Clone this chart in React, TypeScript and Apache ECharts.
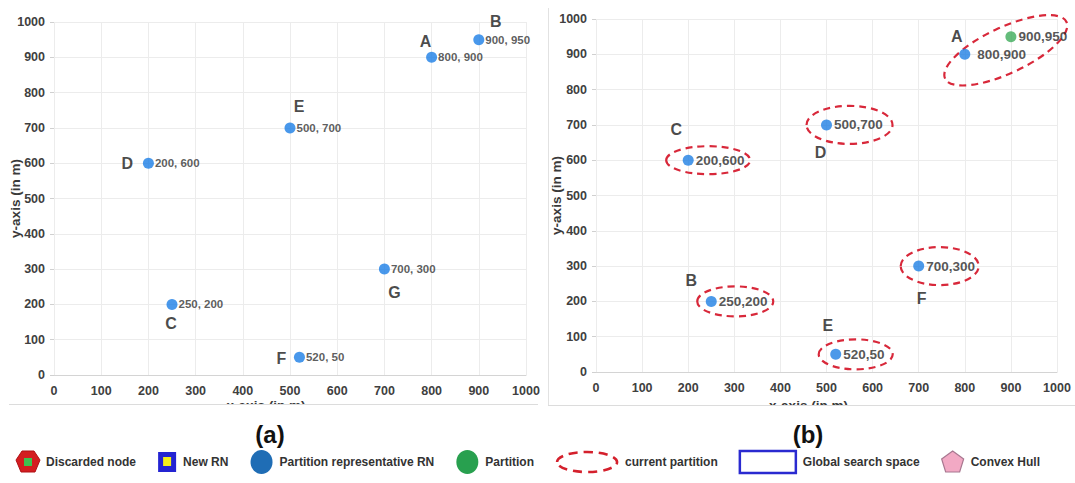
import React, { useEffect, useRef } from "react";
import * as echarts from "echarts";

const FONT = "'Liberation Sans', Arial, Helvetica, sans-serif";

// ---------- data: chart (a) ----------
const nodeNamesA = ["A", "B", "C", "D", "E", "F", "G"];
const nodeXA = [800, 900, 250, 200, 500, 520, 700];
const nodeYA = [900, 950, 200, 600, 700, 50, 300];

// ---------- data: chart (b) ----------
const nodeNamesB = ["A", "", "B", "C", "D", "E", "F"];
const nodeXB = [800, 900, 250, 200, 500, 520, 700];
const nodeYB = [900, 950, 200, 600, 700, 50, 300];
const nodeRoleB = ["rep", "partition", "rep", "rep", "rep", "rep", "rep"];
// current partitions (indices of nodes that each dashed ellipse encloses)
const partitionsB = [[0, 1], [2], [3], [4], [5], [6]];

// ---------- axes ----------
const axisMin = 0;
const axisMax = 1000;
const axisStep = 100;
const xAxisTitle = "x-axis (in m)";
const yAxisTitle = "y-axis (in m)";
const panelTitles = ["(a)", "(b)"];

// ---------- legend ----------
const legendLabels = [
  "Discarded node",
  "New RN",
  "Partition representative RN",
  "Partition",
  "current partition",
  "Global search space",
  "Convex Hull",
];

// ---------- layout (pixel offsets, styles) ----------
const letterOffsetA = [[-6, -16], [17, -18], [-1, 19], [-21, 0], [9, -21], [-18, 1], [10, 23]];
const letterOffsetB = [[-8, -18], [0, 0], [-20, -21], [-12, -31], [-6, 28], [-8, -29], [3, 32]];
const labelDistB = [7, 2, 2, 2, 2, 2, 2];
const ellipseShapeB = [
  { dx: 41, dy: -4, rx: 67, ry: 23, rot: 25 },
  { dx: 24, dy: 0, rx: 38, ry: 15, rot: 0 },
  { dx: 20, dy: 0, rx: 42, ry: 14, rot: 0 },
  { dx: 23, dy: 0, rx: 43, ry: 19, rot: 0 },
  { dx: 20, dy: 0, rx: 37, ry: 15, rot: 0 },
  { dx: 21, dy: 0, rx: 39, ry: 19, rot: 0 },
];

const GRID_A = { left: 54, top: 22, width: 472, height: 353 };
const GRID_B = { left: 596, top: 19, width: 461, height: 353 };

const BLUE_A = "#1c7ee6";
const BLUE_B = "#1f80e4";
const GREEN_B = "#3dab5a";
const RED = "#d8283a";

const tickFmt = (v: number) => String(v);

function makeXAxis(gridIndex: number) {
  return {
    type: "value",
    gridIndex,
    min: axisMin,
    max: axisMax,
    interval: axisStep,
    axisLine: { show: true, lineStyle: { color: "#d4d4d4", width: 1 } },
    axisTick: { show: false },
    axisLabel: { formatter: tickFmt, fontSize: 12.5, fontWeight: "bold", color: "#404040", margin: 9, fontFamily: FONT },
    splitLine: { show: true, lineStyle: { color: "#ececec", width: 1 } },
  };
}
function makeYAxis(gridIndex: number) {
  return {
    type: "value",
    gridIndex,
    min: axisMin,
    max: axisMax,
    interval: axisStep,
    axisLine: { show: false },
    axisTick: { show: true, length: 4, lineStyle: { color: "#d0d0d0" } },
    axisLabel: { formatter: tickFmt, fontSize: 12.5, fontWeight: "bold", color: "#404040", margin: 9, fontFamily: FONT },
    splitLine: { show: true, lineStyle: { color: "#ececec", width: 1 } },
  };
}

export default function App() {
  const ref = useRef<HTMLDivElement>(null);

  useEffect(() => {
    if (!ref.current) return;
    const chart = echarts.init(ref.current, undefined, { renderer: "svg" });

    const seriesA = [
      {
        type: "scatter",
        xAxisIndex: 0,
        yAxisIndex: 0,
        symbolSize: 11,
        itemStyle: { color: BLUE_A },
        data: nodeXA.map((x, i) => [x, nodeYA[i]]),
        label: {
          show: true,
          position: "right",
          distance: 1,
          formatter: (p: any) => `${p.value[0]}, ${p.value[1]}`,
          fontSize: 11.5,
          fontWeight: "bold",
          color: "#333",
          fontFamily: FONT,
        },
        z: 5,
      },
      {
        type: "scatter",
        xAxisIndex: 0,
        yAxisIndex: 0,
        symbolSize: 1,
        silent: true,
        itemStyle: { color: "rgba(0,0,0,0)" },
        data: nodeXA.map((x, i) => ({ value: [x, nodeYA[i]], label: { offset: letterOffsetA[i] } })),
        label: {
          show: true,
          position: "inside",
          formatter: (p: any) => nodeNamesA[p.dataIndex],
          fontSize: 16,
          fontWeight: "bold",
          color: "#1a1a1a",
          fontFamily: FONT,
        },
        z: 6,
      },
    ];

    const seriesB = [
      {
        type: "scatter",
        xAxisIndex: 1,
        yAxisIndex: 1,
        symbolSize: 11,
        data: nodeXB.map((x, i) => ({
          value: [x, nodeYB[i]],
          itemStyle: { color: nodeRoleB[i] === "partition" ? GREEN_B : BLUE_B },
          label: { distance: labelDistB[i] },
        })),
        label: {
          show: true,
          position: "right",
          formatter: (p: any) => `${p.value[0]},${p.value[1]}`,
          fontSize: 13.5,
          fontWeight: "bold",
          color: "#2a2a2a",
          fontFamily: FONT,
        },
        z: 5,
      },
      {
        type: "scatter",
        xAxisIndex: 1,
        yAxisIndex: 1,
        symbolSize: 1,
        silent: true,
        itemStyle: { color: "rgba(0,0,0,0)" },
        data: nodeXB.map((x, i) => ({ value: [x, nodeYB[i]], label: { offset: letterOffsetB[i] } })),
        label: {
          show: true,
          position: "inside",
          formatter: (p: any) => nodeNamesB[p.dataIndex],
          fontSize: 16,
          fontWeight: "bold",
          color: "#1a1a1a",
          fontFamily: FONT,
        },
        z: 6,
      },
    ];

    chart.setOption({
      animation: false,
      backgroundColor: "#ffffff",
      textStyle: { fontFamily: FONT },
      grid: [GRID_A, GRID_B],
      xAxis: [makeXAxis(0), makeXAxis(1)],
      yAxis: [makeYAxis(0), makeYAxis(1)],
      series: [...seriesA, ...seriesB],
    });

    // ---- graphic overlays ----
    const px = (g: number, x: number, y: number) =>
      chart.convertToPixel({ gridIndex: g } as any, [x, y]) as number[];

    const ellipses = partitionsB.map((members, k) => {
      const i = members[0];
      const [cx, cy] = px(1, nodeXB[i], nodeYB[i]);
      const s = ellipseShapeB[k];
      return {
        type: "ellipse",
        x: cx + s.dx,
        y: cy + s.dy,
        rotation: (s.rot * Math.PI) / 180,
        shape: { cx: 0, cy: 0, rx: s.rx, ry: s.ry },
        style: { fill: "none", stroke: RED, lineWidth: 2.2, lineDash: [7, 5] },
        z: 3,
        silent: true,
      };
    });

    const midA = GRID_A.left + GRID_A.width / 2;
    const midB = GRID_B.left + GRID_B.width / 2;
    const axisTitleStyle = { fontSize: 13.5, fontWeight: "bold", fill: "#3a3a3a", fontFamily: FONT };

    const axisTitles = [
      { type: "text", x: midA - 24, y: 405, style: { ...axisTitleStyle, text: xAxisTitle, align: "center", verticalAlign: "middle" }, z: 2 },
      { type: "text", x: midB - 18, y: 405, style: { ...axisTitleStyle, text: xAxisTitle, align: "center", verticalAlign: "middle" }, z: 2 },
      { type: "text", x: 15, y: GRID_A.top + GRID_A.height / 2, rotation: Math.PI / 2, style: { ...axisTitleStyle, text: yAxisTitle, align: "center", verticalAlign: "middle" }, z: 2 },
      { type: "text", x: 556, y: GRID_B.top + GRID_B.height / 2, rotation: Math.PI / 2, style: { ...axisTitleStyle, text: yAxisTitle, align: "center", verticalAlign: "middle" }, z: 2 },
    ];

    // panel frames (faint borders of the two pictures) and clipping strips
    const frames = [
      { type: "rect", shape: { x: 0, y: 405, width: 545, height: 12 }, style: { fill: "#fff" }, z: 8 },
      { type: "rect", shape: { x: 545, y: 406, width: 530, height: 12 }, style: { fill: "#fff" }, z: 8 },
      { type: "line", shape: { x1: 9, y1: 404.5, x2: 538, y2: 404.5 }, style: { stroke: "#dcdcdc", lineWidth: 1 }, z: 9 },
      { type: "line", shape: { x1: 548.5, y1: 8, x2: 548.5, y2: 405.5 }, style: { stroke: "#e2e2e2", lineWidth: 1 }, z: 9 },
      { type: "line", shape: { x1: 548, y1: 405.5, x2: 1075, y2: 405.5 }, style: { stroke: "#dcdcdc", lineWidth: 1 }, z: 9 },
    ];

    const titles = panelTitles.map((t, i) => ({
      type: "text",
      x: i === 0 ? 270 : 808,
      y: 434,
      style: { text: t, fontSize: 24, fontWeight: "bold", fill: "#111", fontFamily: FONT, align: "center", verticalAlign: "middle" },
      z: 9,
    }));

    // legend row
    const canvas = document.createElement("canvas");
    const ctx = canvas.getContext("2d")!;
    const LEG_FONT_SIZE = 12;
    ctx.font = `bold ${LEG_FONT_SIZE}px ${FONT}`;
    const iconW = [24, 20, 24, 24, 64, 58, 24];
    const iconGap = 6;
    const textW = legendLabels.map((t) => ctx.measureText(t).width);
    const startX = 16;
    const endX = 1040;
    const used = iconW.reduce((a, b) => a + b, 0) + textW.reduce((a, b) => a + b, 0) + iconGap * legendLabels.length;
    const itemGap = (endX - startX - used) / (legendLabels.length - 1);
    const LY = 462;
    const legend: any[] = [];
    let cur = startX;
    legendLabels.forEach((label, k) => {
      const w = iconW[k];
      const cx = cur + w / 2;
      if (k === 0) {
        legend.push({
          type: "polygon",
          shape: { points: [[cx - 12, LY - 2], [cx - 6, LY - 11], [cx + 6, LY - 11], [cx + 12, LY - 2], [cx + 7, LY + 10], [cx - 7, LY + 10]] },
          style: { fill: "#d41d20", stroke: "#b01015", lineWidth: 1 },
        });
        legend.push({ type: "rect", shape: { x: cx - 4, y: LY - 4, width: 8, height: 8 }, style: { fill: "#3fc24f" } });
      } else if (k === 1) {
        legend.push({ type: "rect", shape: { x: cx - 9, y: LY - 10, width: 18, height: 20 }, style: { fill: "#2424d2" } });
        legend.push({ type: "rect", shape: { x: cx - 4, y: LY - 5, width: 8, height: 9 }, style: { fill: "#f4ef1a" } });
      } else if (k === 2) {
        legend.push({ type: "ellipse", shape: { cx, cy: LY, rx: 11, ry: 12 }, style: { fill: "#1f6db5" } });
      } else if (k === 3) {
        legend.push({ type: "ellipse", shape: { cx, cy: LY, rx: 11, ry: 12 }, style: { fill: "#28a04f" } });
      } else if (k === 4) {
        legend.push({ type: "ellipse", shape: { cx, cy: LY, rx: 30, ry: 10 }, style: { fill: "none", stroke: "#d4202c", lineWidth: 2.6, lineDash: [9, 6] } });
      } else if (k === 5) {
        legend.push({ type: "rect", shape: { x: cur + 1, y: LY - 11, width: w - 2, height: 22 }, style: { fill: "#fff", stroke: "#2a2ad0", lineWidth: 2.5 } });
      } else {
        legend.push({
          type: "polygon",
          shape: { points: [[cx, LY - 11], [cx + 11, LY - 3], [cx + 7, LY + 10], [cx - 7, LY + 10], [cx - 11, LY - 3]] },
          style: { fill: "#f2a9c4", stroke: "#a87790", lineWidth: 1.2 },
        });
      }
      cur += w + iconGap;
      legend.push({
        type: "text",
        x: cur,
        y: LY,
        style: { text: label, fontSize: LEG_FONT_SIZE, fontWeight: "bold", fill: "#333", fontFamily: FONT, align: "left", verticalAlign: "middle" },
      });
      cur += textW[k] + itemGap;
    });

    chart.setOption({
      graphic: [...ellipses, ...axisTitles, ...frames, ...titles, ...legend.map((e) => ({ z: 9, ...e }))],
    });

    return () => chart.dispose();
  }, []);

  return <div ref={ref} style={{ position: "absolute", left: 0, top: 0, width: 1075, height: 483 }} />;
}
